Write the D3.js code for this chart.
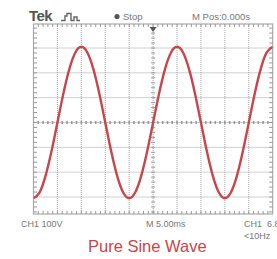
<!DOCTYPE html>
<html><head><meta charset="utf-8">
<script src="https://cdn.jsdelivr.net/npm/d3@7"></script>
<style>body{margin:0;background:#fff;overflow:hidden}svg{display:block}</style>
</head><body>
<svg id="c" width="277" height="259"></svg>
<script>
// Data
const timeMs = [0,1.25,2.5,3.75,5,6.25,7.5,8.75,10,11.25,12.5,13.75,15,16.25,17.5,18.75,20,21.25,22.5,23.75,25,26.25,27.5,28.75,30,31.25,32.5,33.75,35,36.25,37.5,38.75,40,41.25,42.5,43.75,45,46.25,47.5,48.75,50];
const volts  = [-305,-282,-216,-117,0,117,216,282,305,282,216,117,0,-117,-216,-282,-305,-282,-216,-117,0,117,216,282,305,282,216,117,0,-117,-216,-282,-305,-282,-216,-117,0,117,216,282,305];
const timeDivs = [0,5,10,15,20,25,30,35,40,45,50];       // ms, 5.00 ms/div
const voltDivs = [-300,-200,-100,0,100,200,300];        // V, 100 V/div
const labels = {tek:"Tek", stop:"Stop", mpos:"M Pos:0.000s", ch1:"CH1 100V", mscale:"M 5.00ms", ch1b:"CH1  6.80V", freq:"<10Hz", title:"Pure Sine Wave"};

const svg = d3.select("#c");
const L = 33.5, R = 272.7, T = 24, B = 214;
const x = d3.scaleLinear().domain([0,50]).range([L,R]);
const y = d3.scaleLinear().domain([-300,300]).range([197,48]);
const grey = "#a0a0a0";

// frame
svg.append("rect").attr("x",L).attr("y",T).attr("width",R-L).attr("height",B-T)
  .attr("fill","none").attr("stroke","#aaa").attr("stroke-width",1.2);

// grid (dotted)
const g = svg.append("g");
g.selectAll("line.v").data(timeDivs.slice(1,-1)).join("line")
  .attr("x1",d=>x(d)).attr("x2",d=>x(d)).attr("y1",T).attr("y2",B)
  .attr("stroke",grey).attr("stroke-width",1).attr("stroke-dasharray","1,1");
g.selectAll("line.h").data(voltDivs).join("line")
  .attr("x1",L).attr("x2",R).attr("y1",d=>y(d)).attr("y2",d=>y(d))
  .attr("stroke",grey).attr("stroke-width",1).attr("stroke-dasharray","1,1");

// minor ticks (5 per division)
const stepX = (x(5)-x(0))/5, stepY = (y(0)-y(100))/5;
const xt = d3.range(L+stepX, R-0.5, stepX);
const yt = []; for(let v=y(0)-stepY*25; v<B; v+=stepY) if(v>T+1) yt.push(v);
g.selectAll("line.tt").data(xt).join("line").attr("x1",d=>d).attr("x2",d=>d).attr("y1",T).attr("y2",T+3).attr("stroke","#999");
g.selectAll("line.tb").data(xt).join("line").attr("x1",d=>d).attr("x2",d=>d).attr("y1",B-3).attr("y2",B).attr("stroke","#999");
g.selectAll("line.tl").data(yt).join("line").attr("x1",L).attr("x2",L+3.5).attr("y1",d=>d).attr("y2",d=>d).attr("stroke","#999");
g.selectAll("line.tr").data(yt).join("line").attr("x1",R-3.5).attr("x2",R).attr("y1",d=>d).attr("y2",d=>d).attr("stroke","#999");
const cx = x(25), cy = y(0);
g.selectAll("line.cv").data(yt).join("line").attr("x1",cx-2).attr("x2",cx+2).attr("y1",d=>d).attr("y2",d=>d).attr("stroke","#999");
g.selectAll("line.ch").data(xt).join("line").attr("x1",d=>d).attr("x2",d=>d).attr("y1",cy-1.5).attr("y2",cy+1.5).attr("stroke","#999").attr("stroke-width",1.6);

// trigger marker
svg.append("path").attr("d",`M${cx-3.5},27 L${cx+3.5},27 L${cx},32 Z`).attr("fill","#555");

// waveform
svg.append("clipPath").attr("id","cp").append("rect").attr("x",L).attr("y",T).attr("width",R-L).attr("height",B-T);
const line = d3.line().x((d,i)=>x(timeMs[i])).y(d=>y(d)).curve(d3.curveNatural);
svg.append("path").datum(volts).attr("d",line).attr("clip-path","url(#cp)")
  .attr("fill","none").attr("stroke","#c8464b").attr("stroke-width",2.4);

// header texts
const font = "Liberation Sans, Arial, sans-serif";
svg.append("text").attr("x",29).attr("y",20.5).text(labels.tek)
  .attr("font-family",font).attr("font-weight","bold").attr("font-size",15).attr("fill","#555").attr("letter-spacing",-0.6);
svg.append("path").attr("d","M61,20.5 H65 V16 H67 V13.5 H71 V20.5 H74 V17 H77 V20.5 H80")
  .attr("fill","none").attr("stroke","#666").attr("stroke-width",1.4);
svg.append("circle").attr("cx",117).attr("cy",16.5).attr("r",2.6).attr("fill","#555");
svg.append("text").attr("x",123).attr("y",20).text(labels.stop).attr("font-family",font).attr("font-size",9.5).attr("fill","#777");
svg.append("text").attr("x",192).attr("y",20).text(labels.mpos).attr("font-family",font).attr("font-size",9.5).attr("fill","#777");

// footer texts
svg.append("text").attr("x",21).attr("y",227).text(labels.ch1).attr("font-family",font).attr("font-size",9).attr("fill","#777");
svg.append("text").attr("x",146).attr("y",227).text(labels.mscale).attr("font-family",font).attr("font-size",9).attr("fill","#777");
svg.append("text").attr("x",244).attr("y",227).text(labels.ch1b).attr("font-family",font).attr("font-size",9).attr("fill","#777").attr("xml:space","preserve");
svg.append("text").attr("x",244).attr("y",239).text(labels.freq).attr("font-family",font).attr("font-size",9).attr("fill","#777");
svg.append("text").attr("x",88).attr("y",252).text(labels.title).attr("font-family",font).attr("font-size",16.5).attr("fill","#c8464b");
</script>
</body></html>
